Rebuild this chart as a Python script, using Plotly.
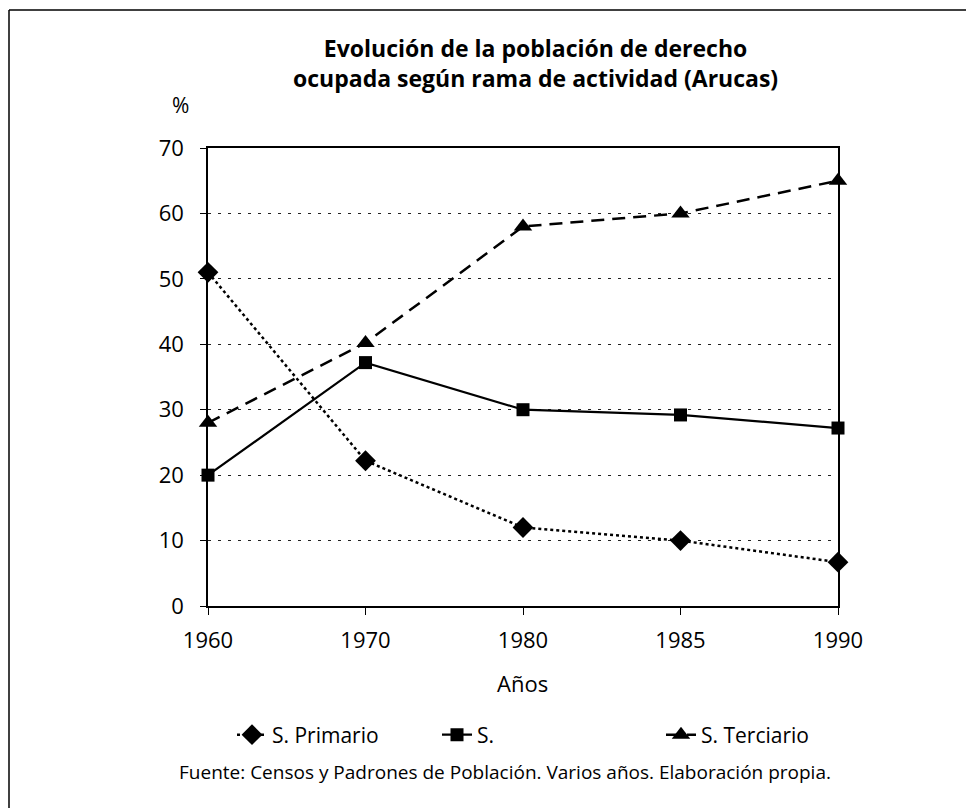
import plotly.graph_objects as go

years = ["1960", "1970", "1980", "1985", "1990"]
primario = [51, 22.2, 12, 10, 6.7]
secundario = [20, 37.2, 30, 29.2, 27.2]
terciario = [28, 40.2, 58, 60, 65]
y_ticks = [0, 10, 20, 30, 40, 50, 60, 70]

FONT = "Open Sans"
OFF = 8                      # default body margin of the html page
W, H = 974 - OFF, 808 - OFF
PX0, PX1, PY0, PY1 = 208, 838, 148, 606   # plot area in page coordinates
L, R, T, B = PX0 - OFF, W - (PX1 - OFF), PY0 - OFF, H - (PY1 - OFF)

def px(x):
    return (x - PX0) / (PX1 - PX0)

def py(y):
    return (PY1 - y) / (PY1 - PY0)

fig = go.Figure()
fig.add_trace(go.Scatter(
    x=years, y=primario, name="S. Primario", mode="lines+markers",
    line=dict(color="black", width=2.5, dash="dot"),
    marker=dict(symbol="diamond", size=16, color="black"),
    cliponaxis=False, legend="legend"))
fig.add_trace(go.Scatter(
    x=years, y=secundario, name="S.", mode="lines+markers",
    line=dict(color="black", width=2.2),
    marker=dict(symbol="square", size=13, color="black"),
    cliponaxis=False, legend="legend2"))
fig.add_trace(go.Scatter(
    x=years, y=terciario, name="S. Terciario", mode="lines+markers",
    line=dict(color="black", width=2.5, dash="13px,8px"),
    marker=dict(symbol="triangle-up", size=16, color="black"),
    cliponaxis=False, legend="legend3"))

leg_common = dict(orientation="h", yanchor="middle", xanchor="left",
                  font=dict(family=FONT, size=21, color="black"),
                  bgcolor="rgba(0,0,0,0)", itemwidth=30)

fig.update_layout(
    width=W, height=H,
    margin=dict(l=L, r=R, t=T, b=B),
    paper_bgcolor="white", plot_bgcolor="white",
    font=dict(family=FONT, color="black"),
    showlegend=True,
    legend=dict(x=px(232), y=py(735), **leg_common),
    legend2=dict(x=px(437), y=py(735), **leg_common),
    legend3=dict(x=px(661), y=py(735), **leg_common),
    xaxis=dict(type="category", range=[0, len(years) - 1],
               showgrid=False, showline=True, linecolor="black", linewidth=1.5,
               mirror=True, ticks="outside", ticklen=7, tickcolor="black",
               tickfont=dict(family=FONT, size=22, color="black"),
               ticklabelstandoff=7, zeroline=False),
    yaxis=dict(range=[0, 70], tickvals=y_ticks,
               showgrid=True, gridcolor="#222", gridwidth=1, griddash="3px,7px",
               showline=True, linecolor="black", linewidth=1.5, mirror=True,
               ticks="outside", ticklen=6, tickcolor="black",
               tickfont=dict(family=FONT, size=22, color="black"),
               ticklabelstandoff=12, zeroline=False),
    annotations=[
        dict(text="<b>Evolución de la población de derecho<br>ocupada según rama de actividad (Arucas)</b>",
             x=px(535), y=py(63), xref="paper", yref="paper",
             xanchor="center", yanchor="middle", showarrow=False,
             font=dict(family=FONT, size=23, color="black")),
        dict(text="%", x=px(180), y=py(105), xref="paper", yref="paper",
             xanchor="center", yanchor="middle", showarrow=False,
             font=dict(family=FONT, size=21, color="black")),
        dict(text="Años", x=px(522), y=py(683), xref="paper", yref="paper",
             xanchor="center", yanchor="middle", showarrow=False,
             font=dict(family=FONT, size=22, color="black")),
        dict(text="Fuente: Censos y Padrones de Población. Varios años. Elaboración propia.",
             x=px(505), y=py(772), xref="paper", yref="paper",
             xanchor="center", yanchor="middle", showarrow=False,
             font=dict(family=FONT, size=19, color="black")),
    ],
    shapes=[
        dict(type="line", xref="paper", yref="paper", x0=px(9), x1=px(974),
             y0=py(10), y1=py(10), line=dict(color="black", width=1.5)),
        dict(type="line", xref="paper", yref="paper", x0=px(9), x1=px(9),
             y0=py(10), y1=py(808), line=dict(color="black", width=1.5)),
    ],
)

fig.write_html("out.html")
